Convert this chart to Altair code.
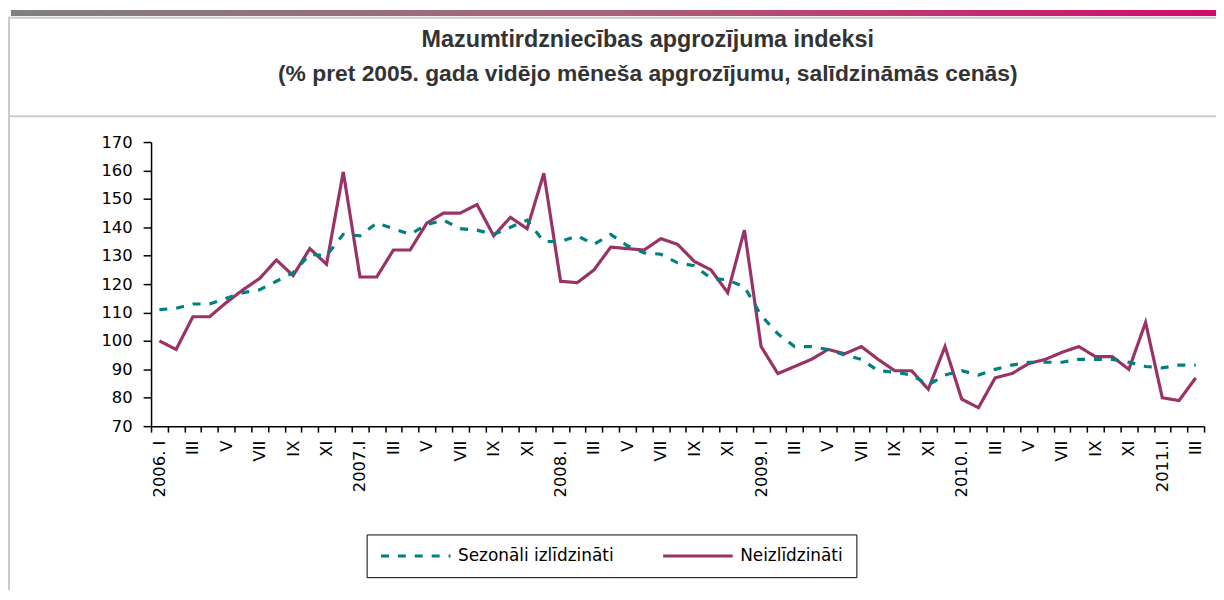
import json
import altair as alt
import pandas as pd

title_line1 = "Mazumtirdzniecības apgrozījuma indeksi"
title_line2 = "(% pret 2005. gada vidējo mēneša apgrozījumu, salīdzināmās cenās)"

series_names = ["Sezonāli izlīdzināti", "Neizlīdzināti"]
series_colors = ["#008080", "#993366"]

month_labels = [
    "2006. I", "", "III", "", "V", "", "VII", "", "IX", "", "XI", "",
    "2007.I", "", "III", "", "V", "", "VII", "", "IX", "", "XI", "",
    "2008. I", "", "III", "", "V", "", "VII", "", "IX", "", "XI", "",
    "2009. I", "", "III", "", "V", "", "VII", "", "IX", "", "XI", "",
    "2010. I", "", "III", "", "V", "", "VII", "", "IX", "", "XI", "",
    "2011.I", "", "III",
]

neizlidzinati = [
    100, 97, 108.5, 108.5, 113.5, 118, 122, 128.5, 123, 132.5, 127, 159.5,
    122.5, 122.5, 132, 132, 141.5, 145, 145, 148, 137, 143.5, 139.5, 159,
    121, 120.5, 125, 133, 132.5, 132, 136, 134, 128, 125, 117, 139,
    98, 88.5, 91, 93.5, 97, 95.5, 98, 93.5, 89.5, 89.5, 83, 98,
    79.5, 76.5, 87, 88.5, 92, 93.5, 96, 98, 94.5, 94.5, 90, 106.5,
    80, 79, 87,
]

sezonali = [
    111, 111.5, 113, 113, 115, 117, 118, 121, 124, 130.5, 130, 137.5,
    137, 141.5, 139.5, 137.5, 141, 142.5, 139.5, 139, 137.5, 140, 142.5, 135,
    135, 137, 134, 137.5, 133.5, 131, 130.5, 127.5, 126.5, 122, 121.5, 119,
    109, 102.5, 98, 98, 97, 95, 93.5, 89.5, 89, 88, 84.5, 88,
    89.5, 88, 90, 91.5, 92.5, 92.5, 92.5, 93.5, 93.5, 93.5, 92.5, 91,
    90.5, 91.5, 91.5,
]

n = len(month_labels)
rows = []
for i in range(n):
    rows.append({"idx": i, "series": series_names[1], "value": neizlidzinati[i]})
for i in range(n):
    rows.append({"idx": i, "series": series_names[0], "value": sezonali[i]})
df = pd.DataFrame(rows)

label_expr = json.dumps(month_labels, ensure_ascii=False) + "[datum.value]"

W, H = 1060, 286

legend_cfg = dict(
    title=None, orient="none", legendX=217, legendY=395, direction="horizontal",
    strokeColor="black", fillColor="white", padding=13,
    symbolType="M-1,0H9", symbolSize=196, symbolStrokeWidth=3,
    labelFont="DejaVu Sans", labelFontSize=17, labelColor="black",
    labelOffset=62, columnPadding=43,
)

lines = alt.Chart(df).mark_line(strokeWidth=3.2).encode(
    x=alt.X(
        "idx:O",
        scale=alt.Scale(type="band", paddingInner=0, paddingOuter=0),
        axis=alt.Axis(
            title=None, labelExpr=label_expr, labelAngle=270, tickBand="extent",
            tickSize=6, labelPadding=8, labelFont="DejaVu Sans", labelFontSize=16.5,
            labelColor="black", domainColor="black", tickColor="black",
            domainWidth=1.5, tickWidth=1.5, grid=False, labelOverlap=False,
        ),
    ),
    y=alt.Y(
        "value:Q",
        scale=alt.Scale(domain=[70, 170], nice=False, zero=False),
        axis=alt.Axis(
            title=None, values=list(range(70, 171, 10)), tickSize=8, labelPadding=11,
            labelFont="DejaVu Sans", labelFontSize=16.5, labelColor="black",
            domainColor="black", tickColor="black", domainWidth=1.5, tickWidth=1.5,
            grid=False,
        ),
    ),
    color=alt.Color(
        "series:N",
        scale=alt.Scale(domain=series_names, range=series_colors),
        legend=alt.Legend(**legend_cfg),
    ),
    strokeDash=alt.StrokeDash(
        "series:N",
        scale=alt.Scale(domain=series_names, range=[[8, 9], [1, 0]]),
        legend=alt.Legend(**legend_cfg),
    ),
    order=alt.Order("series:N", sort="ascending"),
)

one = alt.Data(values=[{"a": 1}])

gradient = alt.Chart(one).mark_rect(
    color=alt.LinearGradient(
        gradient="linear", x1=0, x2=1, y1=0, y2=0,
        stops=[alt.GradientStop(offset=0, color="#808080"),
               alt.GradientStop(offset=0.5, color="#a86377"),
               alt.GradientStop(offset=1, color="#d20a6c")],
    )
).encode(x=alt.value(-141), x2=alt.value(1072), y=alt.value(-133), y2=alt.value(-127))

frame_top = alt.Chart(one).mark_rect(color="#cccccc").encode(
    x=alt.value(-144), x2=alt.value(1072), y=alt.value(-126), y2=alt.value(-124))
frame_sep = alt.Chart(one).mark_rect(color="#cccccc").encode(
    x=alt.value(-144), x2=alt.value(1072), y=alt.value(-27), y2=alt.value(-25))
frame_left = alt.Chart(one).mark_rect(color="#cccccc").encode(
    x=alt.value(-144), x2=alt.value(-142), y=alt.value(-126), y2=alt.value(451))

t1 = alt.Chart(alt.Data(values=[{"t": title_line1}])).mark_text(
    font="Liberation Sans", fontSize=23.5, fontWeight="bold", color="#333333",
    align="center", baseline="alphabetic",
).encode(text="t:N", x=alt.value(500), y=alt.value(-96))
t2 = alt.Chart(alt.Data(values=[{"t": title_line2}])).mark_text(
    font="Liberation Sans", fontSize=23, fontWeight="bold", color="#333333",
    align="center", baseline="alphabetic",
).encode(text="t:N", x=alt.value(500), y=alt.value(-61))

chart = alt.layer(gradient, frame_top, frame_sep, frame_left, t1, t2, lines).properties(
    width=W, height=H, padding=0,
).configure_view(stroke=None)

chart.save("out.html", embed_options={"renderer": "svg", "actions": False})
